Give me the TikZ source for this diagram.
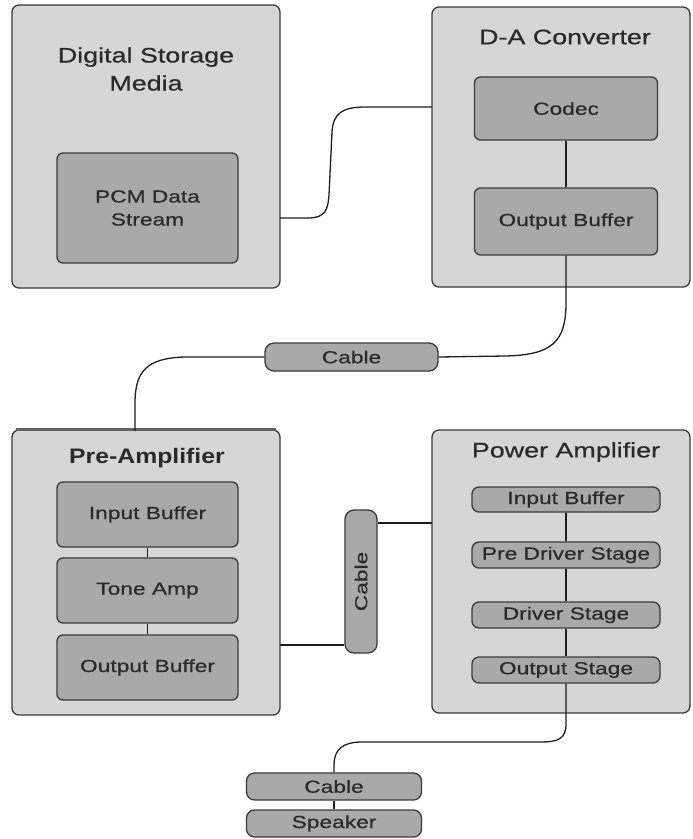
\documentclass[tikz,border=0pt]{standalone}
\usepackage{fontspec}
\setmainfont{Liberation Sans}
\newfontfamily\widefont[FakeStretch=1.3,FakeBold=0.6]{Liberation Sans}
\newfontfamily\titlefont[FakeStretch=1.28,FakeBold=0.6]{Liberation Sans}
\newfontfamily\titlefontb[FakeStretch=1.18]{Liberation Sans}
\definecolor{bdr}{HTML}{3A3A3A}
\definecolor{outerfill}{HTML}{D6D6D6}
\definecolor{innerfill}{HTML}{A9A9A9}
\definecolor{txt}{HTML}{2A2A2A}
\definecolor{wirec}{HTML}{1E1E1E}
\tikzset{
  outerbox/.style={draw=bdr, fill=outerfill, rounded corners=7pt, line width=1.3pt, inner sep=0pt},
  innerbox/.style={draw=bdr, fill=innerfill, rounded corners=6pt, line width=1.3pt, inner sep=0pt,
    font=\widefont\fontsize{17.5}{23}\selectfont, text=txt, align=center},
  titletext/.style={font=\titlefont\fontsize{21}{28}\selectfont, text=txt, align=center, inner sep=0pt},
  wire/.style={draw=wirec, line width=1.3pt}
}
\begin{document}
\begin{tikzpicture}[x=1pt,y=-1pt]
\fill[white] (0,0) rectangle (693,839);
\useasboundingbox (0,0) rectangle (693,839);

% Digital Storage Media
\node[outerbox, minimum width=268pt, minimum height=283pt] (dsm) at (146,146.5) {};
\node[titletext] (dsmt) at (146,69) {Digital Storage\\Media};
\node[innerbox, minimum width=181pt, minimum height=110pt] (pcm) at (147.5,208) {PCM Data\\Stream};

% D-A Converter
\node[outerbox, minimum width=258pt, minimum height=280pt] (dac) at (561,147) {};
\node[titletext] (dact) at (565,37) {D-A Converter};
\node[innerbox, minimum width=183pt, minimum height=63pt] (codec) at (566,108.5) {Codec};
\node[innerbox, minimum width=183pt, minimum height=67pt] (ob1) at (566,221.5) {Output Buffer};

% Cable 1
\node[innerbox, rounded corners=9pt, minimum width=173pt, minimum height=28pt] (cable1) at (351.5,357) {Cable};

% Pre-Amplifier
\node[outerbox, minimum width=268pt, minimum height=285pt] (pre) at (146,572.5) {};
\draw[draw=bdr!80, line width=3pt, shorten >=5pt, shorten <=5pt] (pre.north west) -- (pre.north east);
\node[titletext, font=\titlefontb\bfseries\fontsize{21}{28}\selectfont] (pret) at (147,458) {Pre-Amplifier};
\node[innerbox, minimum width=181pt, minimum height=65pt] (ib) at (147.5,514.5) {Input Buffer};
\node[innerbox, minimum width=181pt, minimum height=65pt] (ta) at (147.5,590.5) {Tone Amp};
\node[innerbox, minimum width=181pt, minimum height=65pt] (ob2) at (147.5,667.5) {Output Buffer};

% Vertical cable
\node[innerbox, rounded corners=9pt, minimum width=32pt, minimum height=143pt] (cable2) at (361,581.5) {};
\node[rotate=90, font=\widefont\fontsize{17.5}{23}\selectfont, text=txt, inner sep=0pt] (cable2t) at (cable2.center) {Cable};

% Power Amplifier
\node[outerbox, minimum width=258pt, minimum height=283pt] (pa) at (561,571.5) {};
\node[titletext] (pat) at (566,452) {Power Amplifier};
\node[innerbox, rounded corners=7pt, minimum width=188pt, minimum height=25pt] (ib2) at (566,499.5) {Input Buffer};
\node[innerbox, rounded corners=7pt, minimum width=188pt, minimum height=26pt] (pd) at (566,555) {Pre Driver Stage};
\node[innerbox, rounded corners=7pt, minimum width=188pt, minimum height=26pt] (ds) at (566,615) {Driver Stage};
\node[innerbox, rounded corners=7pt, minimum width=188pt, minimum height=26pt] (os) at (566,670) {Output Stage};

% Bottom cable and speaker
\node[innerbox, rounded corners=8pt, minimum width=175pt, minimum height=27pt] (cable3) at (334,786.5) {Cable};
\node[innerbox, rounded corners=8pt, minimum width=175pt, minimum height=27pt] (spk) at (334,823.5) {Speaker};

% Coordinates on box edges
\coordinate (dsmout) at (280,218);
\coordinate (dacin) at (432,107);
\coordinate (prein) at (135,431);
\coordinate (preout) at (280,645);
\coordinate (pain) at (432,523);

% Wires
\draw[wire] (dsmout) -- (308,218) .. controls (325,218) and (328,210) .. (329,195) -- (332,132) .. controls (333,113) and (343,107) .. (365,107) -- (dacin);
\draw[wire] (codec.south) -- (ob1.north);
\draw[wire] (ob1.south) -- (566,303) .. controls (566,342) and (552,355) .. (505,356) -- (cable1.east);
\draw[wire] (cable1.west) -- (185,357) .. controls (146,358) and (136,372) .. (135,400) -- (prein);
\draw[wire] (ib.south) -- (ta.north);
\draw[wire] (ta.south) -- (ob2.north);
\draw[wire] (preout) -- (preout -| cable2.west);
\draw[wire] (pain -| cable2.east) -- (pain);
\draw[wire] (ib2.south) -- (pd.north);
\draw[wire] (pd.south) -- (ds.north);
\draw[wire] (ds.south) -- (os.north);
\draw[wire] (os.south) -- (566,724) .. controls (566,739) and (558,742) .. (540,742) -- (362,742) .. controls (342,742) and (334,750) .. (334,765) -- (cable3.north);
\draw[wire] (cable3.south) -- (spk.north);
\end{tikzpicture}
\end{document}
